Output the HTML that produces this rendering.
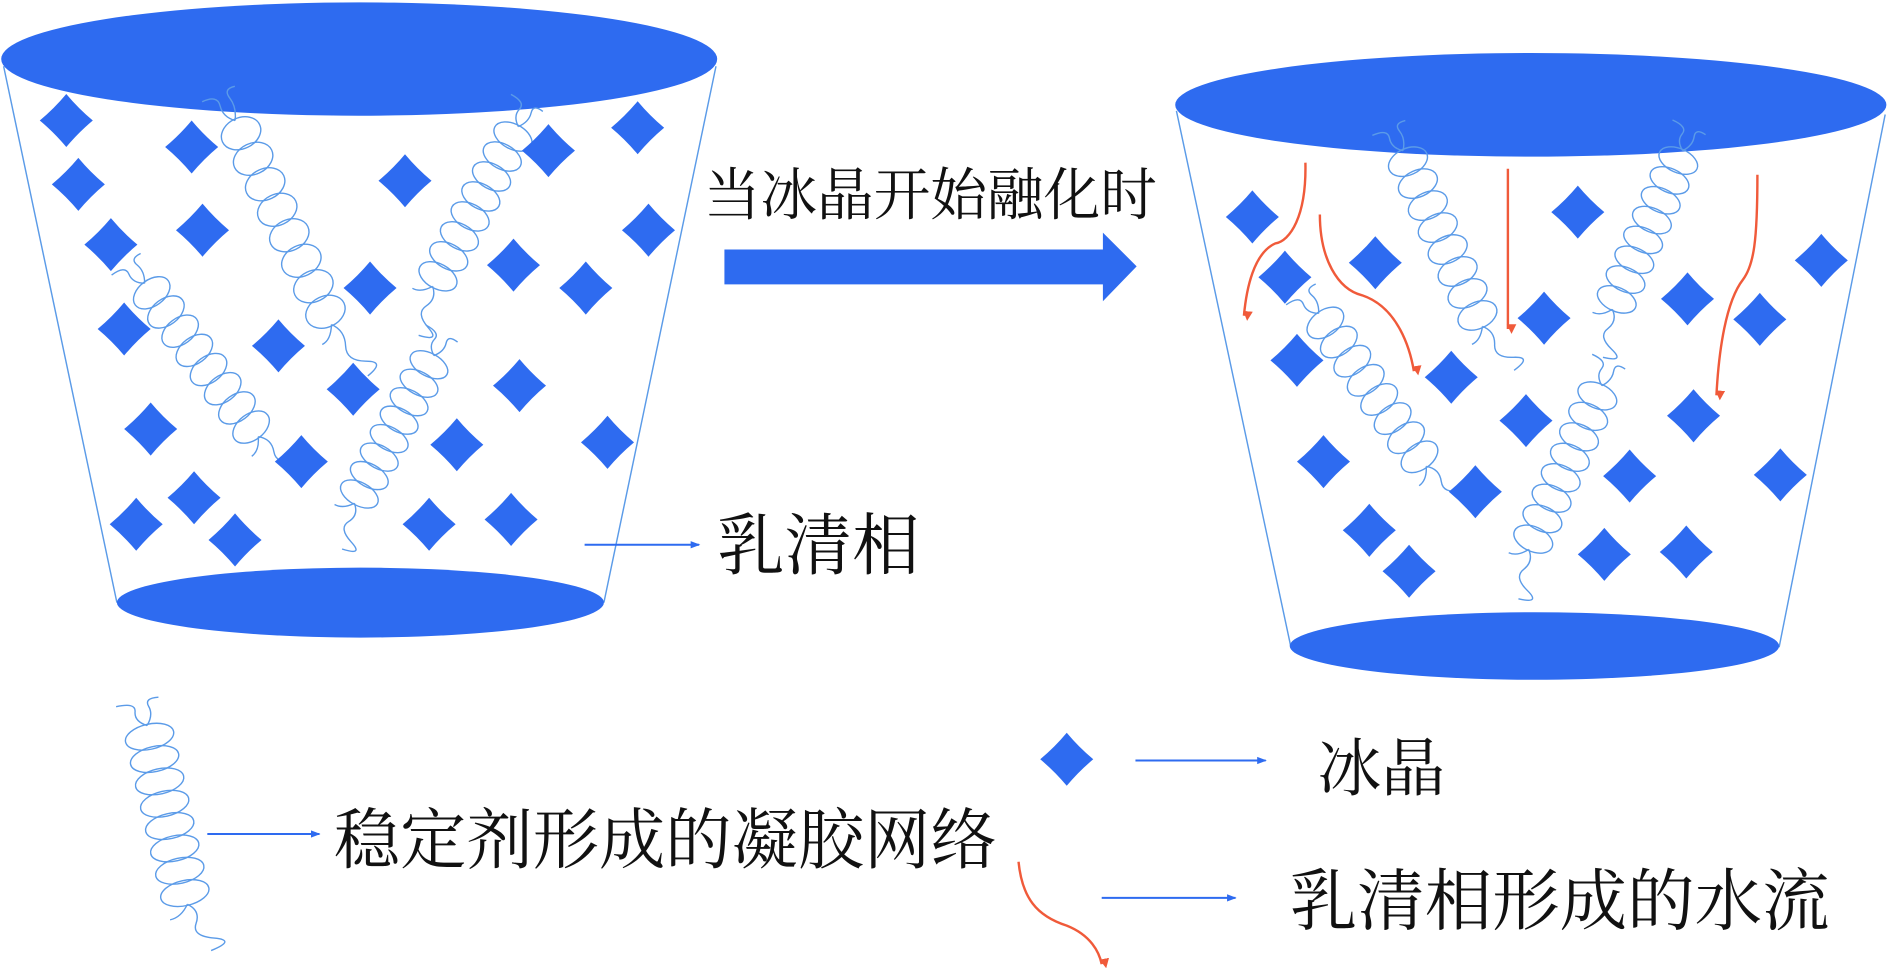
<!DOCTYPE html>
<html><head><meta charset="utf-8"><style>
html,body{margin:0;padding:0;background:#fff;}
svg{display:block;}
text{font-family:"Liberation Serif","Noto Serif CJK SC","Noto Serif CJK JP",serif;fill:#111;}
</style></head><body>
<svg width="1890" height="969" viewBox="0 0 1568 804" preserveAspectRatio="none" xmlns="http://www.w3.org/2000/svg">
<defs>
<path id="d" d="M0,-22 Q10,-10 22,0 Q10,10 0,22 Q-10,10 -22,0 Q-10,-10 0,-22Z" fill="#2e6bf0"/>
<g id="hx" fill="none" stroke="#5b9be8" stroke-width="1.4">
<ellipse cx="0" cy="10" rx="17" ry="11" vector-effect="non-scaling-stroke"/>
<ellipse cx="0" cy="30" rx="17" ry="11" vector-effect="non-scaling-stroke"/>
<ellipse cx="0" cy="50" rx="17" ry="11" vector-effect="non-scaling-stroke"/>
<ellipse cx="0" cy="70" rx="17" ry="11" vector-effect="non-scaling-stroke"/>
<ellipse cx="0" cy="90" rx="17" ry="11" vector-effect="non-scaling-stroke"/>
<ellipse cx="0" cy="110" rx="17" ry="11" vector-effect="non-scaling-stroke"/>
<ellipse cx="0" cy="130" rx="17" ry="11" vector-effect="non-scaling-stroke"/>
<ellipse cx="0" cy="150" rx="17" ry="11" vector-effect="non-scaling-stroke"/>
<path d="M0,0 q-8,-6 -6,-14 t-12,-8 M0,0 q6,-8 4,-16 t8,-6 M0,160 q8,8 3,18 t10,16 t-4,10 M0,160 q-6,10 -14,10" vector-effect="non-scaling-stroke"/>
</g>
<marker id="ba" markerWidth="8" markerHeight="8" refX="7" refY="4" orient="auto" markerUnits="userSpaceOnUse"><path d="M0,1 L8,4 L0,7Z" fill="#2e6bf0"/></marker>
<marker id="ra" markerWidth="8" markerHeight="8" refX="4" refY="7" orient="auto-start-reverse" markerUnits="userSpaceOnUse"><path d="M0,0 L4,8 L8,0Z" fill="#f05a3a" transform="rotate(-90 4 4)"/></marker>
</defs>

<line x1="3" y1="55" x2="97" y2="500" stroke="#5b9be8" stroke-width="1.2"/>
<line x1="594" y1="55" x2="501" y2="500" stroke="#5b9be8" stroke-width="1.2"/>
<ellipse cx="298" cy="49" rx="297" ry="47" fill="#2e6bf0"/>
<ellipse cx="299" cy="500" rx="202" ry="29" fill="#2e6bf0"/>

<line x1="976" y1="92" x2="1071" y2="537" stroke="#5b9be8" stroke-width="1.2"/>
<line x1="1564" y1="95" x2="1476" y2="537" stroke="#5b9be8" stroke-width="1.2"/>
<ellipse cx="1270" cy="87" rx="295" ry="43" fill="#2e6bf0"/>
<ellipse cx="1273" cy="536" rx="203" ry="28" fill="#2e6bf0"/>

<use href="#hx" transform="translate(195,100) rotate(-25.3) scale(1,1.17)"/>
<use href="#hx" transform="translate(430,105) rotate(28.2) scale(1,0.94)"/>
<use href="#hx" transform="translate(120,235) rotate(-36.5) scale(1,0.99)"/>
<use href="#hx" transform="translate(360,295) rotate(28.3) scale(1,0.87)"/>
<use href="#hx" transform="translate(1164,125) rotate(-24.3) scale(1,1.0)"/>
<use href="#hx" transform="translate(1396,125) rotate(23.9) scale(1,0.9)"/>
<use href="#hx" transform="translate(1094,260) rotate(-35.1) scale(1,0.97)"/>
<use href="#hx" transform="translate(1329,320) rotate(24.1) scale(1,0.93)"/>
<use href="#hx" transform="translate(122,602) rotate(-12.7) scale(1.2,0.95)"/>

<g>
<use href="#d" x="55" y="100"/><use href="#d" x="159" y="122"/><use href="#d" x="65" y="153"/><use href="#d" x="336" y="150"/><use href="#d" x="455" y="125"/><use href="#d" x="529" y="106"/><use href="#d" x="92" y="203"/><use href="#d" x="168" y="191"/><use href="#d" x="538" y="191"/><use href="#d" x="426" y="220"/><use href="#d" x="486" y="239"/><use href="#d" x="307" y="239"/><use href="#d" x="103" y="273"/><use href="#d" x="231" y="287"/><use href="#d" x="293" y="323"/><use href="#d" x="431" y="320"/><use href="#d" x="125" y="356"/><use href="#d" x="250" y="383"/><use href="#d" x="379" y="369"/><use href="#d" x="504" y="367"/><use href="#d" x="113" y="435"/><use href="#d" x="161" y="413"/><use href="#d" x="195" y="448"/><use href="#d" x="356" y="435"/><use href="#d" x="424" y="431"/>
</g>
<g>
<use href="#d" x="1039" y="180"/><use href="#d" x="1066" y="230"/><use href="#d" x="1141" y="218"/><use href="#d" x="1309" y="176"/><use href="#d" x="1511" y="216"/><use href="#d" x="1400" y="248"/><use href="#d" x="1460" y="265"/><use href="#d" x="1281" y="264"/><use href="#d" x="1076" y="299"/><use href="#d" x="1204" y="313"/><use href="#d" x="1266" y="349"/><use href="#d" x="1405" y="345"/><use href="#d" x="1098" y="383"/><use href="#d" x="1224" y="408"/><use href="#d" x="1352" y="395"/><use href="#d" x="1477" y="394"/><use href="#d" x="1136" y="440"/><use href="#d" x="1169" y="474"/><use href="#d" x="1331" y="460"/><use href="#d" x="1399" y="458"/>
</g>

<g fill="none" stroke="#f05a3a" stroke-width="2">
<path d="M1083,135 C1084,180 1070,200 1058,202 C1040,210 1034,240 1032,262" marker-end="url(#ra)"/>
<path d="M1095,178 C1095,215 1110,240 1130,245 C1160,255 1170,290 1173,308" marker-end="url(#ra)"/>
<path d="M1251,140 L1251,273" marker-end="url(#ra)"/>
<path d="M1458,145 C1458,200 1455,220 1446,232 C1432,250 1426,290 1424,328" marker-end="url(#ra)"/>
<path d="M845,715 C848,745 860,760 885,768 C905,776 912,790 914,800" marker-end="url(#ra)"/>
</g>

<path d="M601,207 L915,207 L915,193 L943,221 L915,250 L915,236 L601,236Z" fill="#2e6bf0"/>
<text x="584" y="178" font-size="47">当冰晶开始融化时</text>

<g stroke="#2e6bf0" stroke-width="1.6">
<line x1="485" y1="452" x2="580" y2="452" marker-end="url(#ba)"/>
<line x1="172" y1="692" x2="265" y2="692" marker-end="url(#ba)"/>
<line x1="942" y1="631" x2="1050" y2="631" marker-end="url(#ba)"/>
<line x1="914" y1="745" x2="1025" y2="745" marker-end="url(#ba)"/>
</g>
<text x="595" y="472" font-size="56">乳清相</text>
<text x="277" y="716" font-size="55">稳定剂形成的凝胶网络</text>
<use href="#d" x="885" y="630"/>
<text x="1093" y="656" font-size="53">冰晶</text>
<text x="1070" y="767" font-size="56">乳清相形成的水流</text>
</svg>
</body></html>
